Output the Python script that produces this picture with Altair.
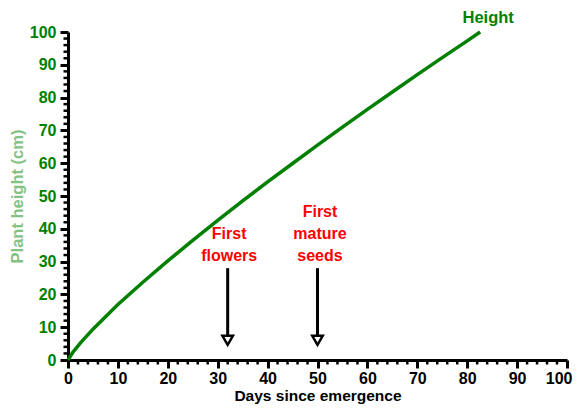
import altair as alt
import pandas as pd

# Plant height growth curve
days = [0, 1, 2.5, 5, 10, 15, 20, 25, 30, 35, 40, 45, 50, 55, 60, 65, 70, 75, 80, 82.6]
height = [0, 2.4, 5.2, 9.4, 16.9, 23.7, 30.2, 36.5, 42.6, 48.5, 54.3, 59.9, 65.5, 71.0, 76.4, 81.7, 87.0, 92.2, 97.3, 100]

# Event arrows
event_day = [32, 50]
arrow_top = [28, 28]
arrow_tip = [6, 6]

# Annotation text lines
ann_text = ["First", "flowers", "First", "mature", "seeds"]
ann_x = [32.3, 32.3, 50.5, 50.5, 50.5]
ann_y = [38.5, 31.8, 45.0, 38.3, 31.6]

series_label = ["Height"]
series_label_x = [84.2]
series_label_y = [104.3]

# Axis tick values
major_ticks = list(range(0, 101, 10))
minor_ticks = [v for v in range(0, 101, 2) if v % 10 != 0]

GREEN = "#008000"
FONT = "Liberation Sans"
W, H = 499, 328

curve_df = pd.DataFrame({"days": days, "height": height})
arrow_df = pd.DataFrame({"days": event_day, "height": arrow_top, "tip": arrow_tip})
ann_df = pd.DataFrame({"days": ann_x, "height": ann_y, "text": ann_text})
lab_df = pd.DataFrame({"days": series_label_x, "height": series_label_y, "text": series_label})
minor_df = pd.DataFrame({"days": minor_ticks, "height": minor_ticks})

x_scale = alt.Scale(domain=[0, 100], nice=False, zero=True)
y_scale = alt.Scale(domain=[0, 100], nice=False, zero=True)

common_axis = dict(
    values=major_ticks,
    tickSize=8,
    tickWidth=3,
    tickColor="black",
    domainColor="black",
    domainWidth=3,
    grid=False,
    labelFont=FONT,
    labelFontSize=16,
    labelFontWeight="bold",
    labelFlush=False,
    labelOverlap=False,
)

last_test = "datum.value === 100"

x_axis = alt.Axis(
    **common_axis,
    labelColor="black",
    labelPadding=2,
    labelAlign={"condition": {"test": last_test, "value": "right"}, "value": "center"},
    labelOffset={"condition": {"test": last_test, "value": 5}, "value": 0},
    title="Days since emergence",
    titleFont=FONT,
    titleFontSize=15.5,
    titleFontWeight="bold",
    titleColor="black",
    titleX=W / 2,
    titleY=35,
    titleAlign="center",
    titleBaseline="middle",
)

y_axis = alt.Axis(
    **common_axis,
    labelColor=GREEN,
    labelPadding=4,
    title="Plant height (cm)",
    titleFont=FONT,
    titleFontSize=16.5,
    titleFontWeight="bold",
    titleColor="#84c284",
    titleAngle=-90,
    titleX=-51,
    titleY=164,
    titleAlign="center",
    titleBaseline="middle",
)

X = alt.X("days:Q", scale=x_scale, axis=x_axis)
Y = alt.Y("height:Q", scale=y_scale, axis=y_axis)

# minor ticks (every 2 units) drawn outward from each axis line
x_minor = alt.Chart(minor_df).mark_rule(color="black", strokeWidth=2.5).encode(
    x=X, y=alt.value(H), y2=alt.value(H + 4.5)
)
y_minor = alt.Chart(minor_df).mark_rule(color="black", strokeWidth=2.5).encode(
    y=Y, x=alt.value(0), x2=alt.value(-4.5)
)

curve = alt.Chart(curve_df).mark_line(color=GREEN, strokeWidth=3.5).encode(x=X, y=Y)

arrows = alt.Chart(arrow_df).mark_rule(color="black", strokeWidth=3).encode(
    x=X, y=Y, y2="tip:Q"
)

heads_fill = alt.Chart(arrow_df).mark_point(
    shape="triangle-down", filled=True, color="white", size=60, opacity=1
).encode(x=X, y=alt.Y("tip:Q", scale=y_scale, axis=y_axis))

heads = alt.Chart(arrow_df).mark_point(
    shape="triangle-down", filled=False, color="black", strokeWidth=2.5, size=110, opacity=1
).encode(x=X, y=alt.Y("tip:Q", scale=y_scale, axis=y_axis))

ann = alt.Chart(ann_df).mark_text(
    color="#ff0000", font=FONT, fontSize=16, fontWeight="bold", align="center", baseline="middle"
).encode(x=X, y=Y, text="text:N")

lab = alt.Chart(lab_df).mark_text(
    color=GREEN, font=FONT, fontSize=16.5, fontWeight="bold", align="center", baseline="middle"
).encode(x=X, y=Y, text="text:N")

chart = alt.layer(x_minor, y_minor, curve, arrows, heads_fill, heads, ann, lab).properties(
    width=W,
    height=H,
    autosize=alt.AutoSizeParams(type="none"),
    padding={"left": 60, "top": 24, "right": 6, "bottom": 46},
    background="white",
).configure_view(stroke=None)

chart.save("out.html", embed_options={"renderer": "svg", "actions": False})
